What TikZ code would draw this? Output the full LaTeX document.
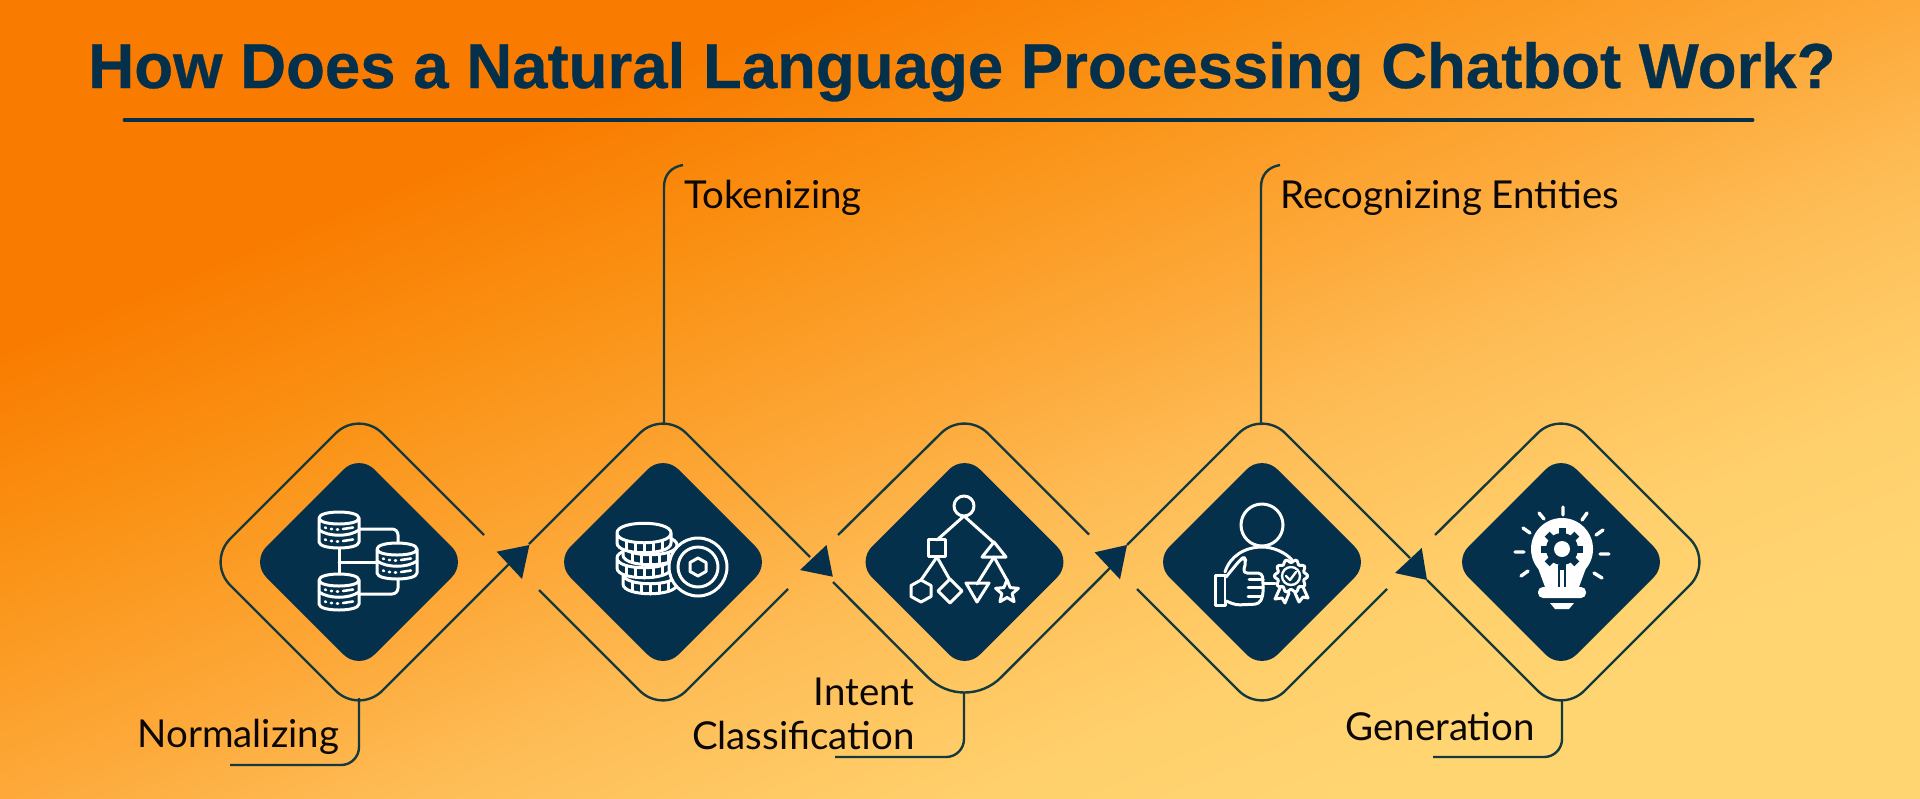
\documentclass[tikz,border=0pt]{standalone}
\usepackage{fontspec}
\setmainfont{Lato}
\newfontfamily\titlefont{Liberation Sans Bold}[FakeBold=0.5]
\usetikzlibrary{shapes.geometric,calc}
\definecolor{navy}{HTML}{04304B}
\definecolor{ln}{HTML}{143A3F}
\definecolor{ink}{HTML}{0B0705}
\definecolor{g0}{HTML}{F97C00}
\definecolor{g2}{HTML}{FA9215}
\definecolor{g3}{HTML}{FDA93A}
\definecolor{g4}{HTML}{FEBC55}
\definecolor{g5}{HTML}{FFD06C}
\definecolor{g6}{HTML}{FFD572}
\pgfdeclarehorizontalshading{bgshade}{100bp}{color(0bp)=(g0);color(36bp)=(g0);color(42.5bp)=(g2);color(50bp)=(g3);color(55bp)=(g4);color(62.5bp)=(g5);color(67.5bp)=(g6);color(100bp)=(g6)}
\tikzset{
  outerline/.style={draw=ln,line width=1.2pt,rounded corners=16.5pt,line cap=butt},
  leader/.style={draw=ln,line width=1.2pt},
  tip/.style={fill=navy},
  core/.style={diamond,fill=navy,aspect=1,inner sep=0pt,outer sep=0pt,minimum width=108bp,minimum height=108bp,rounded corners=11pt},
  lab/.style={font=\fontsize{19.3}{23}\selectfont,text=ink,anchor=base west,inner sep=0pt},
  ico/.style={draw=white,line width=1.5pt,line join=round,line cap=round},
  icof/.style={ico,fill=navy}
}
\newcommand\dbi[2]{\begin{scope}[shift={(#1,#2)}]
  \filldraw[icof] (-20,0) -- (-20,24) .. controls (-20,32) and (20,32) .. (20,24) -- (20,0) .. controls (20,-8) and (-20,-8) .. (-20,0) .. controls (-20,8) and (20,8) .. (20,0);
  \draw[ico] (-20,12) .. controls (-10,19) and (10,19) .. (20,12);
  \draw[ico,line width=1.3pt] (-14,9.5)--(-13,10) (-8,11)--(-7,11) (-2,11.5)--(-1,11.5) (4,11)--(14,9.5);
  \draw[ico,line width=1.3pt] (-14,21.5)--(-13,22) (-8,23)--(-7,23) (-2,23.5)--(-1,23.5) (4,23)--(14,21.5);
\end{scope}}
\newcommand\coini[2]{\begin{scope}[shift={(#1,#2)}]
  \filldraw[icof] (-27,0) -- (-27,10) .. controls (-27,23) and (27,23) .. (27,10) -- (27,0) .. controls (27,-13) and (-27,-13) .. (-27,0) .. controls (-27,13) and (27,13) .. (27,0);
  \draw[ico] (-18,8)--(-18,17) (-9,10)--(-9,19) (0,10)--(0,20) (9,10)--(9,19) (18,8)--(18,17);
\end{scope}}
\begin{document}
\begin{tikzpicture}[x=0.5bp,y=-0.5bp]
\useasboundingbox (0,0) rectangle (1920,798);
\begin{scope}
\clip (0,0) rectangle (1920,800);
\begin{scope}[x=1bp,y=1bp,transform canvas={cm={480,-200,480,200,(0,0)}}]
\path[shading=bgshade] (0,-1) rectangle (2,1);
\end{scope}
\end{scope}
% title
\node[anchor=base west,inner sep=0pt,text=navy,font=\titlefont\fontsize{31.9}{36}\selectfont] (title) at (88,88) {How Does a Natural Language Processing Chatbot Work?};
\coordinate (ruleL) at (125,120);
\coordinate (ruleR) at (1752,120);
\draw[navy,line width=2.5pt,line cap=round] (ruleL) -- (ruleR);
% core diamonds
\node[core] (n1) at (359,562) {};
\node[core] (n2) at (663,562) {};
\node[core] (n3) at (964.5,562) {};
\node[core] (n4) at (1262,562) {};
\node[core] (n5) at (1561,562) {};
% outer loops
\path[outerline] (484,535) -- (359,410) -- (207,562) -- (359,714) -- (512,561);
\path[outerline] (529,544) -- (663,410) -- (810,557);
\path[outerline] (539,590) -- (663,714) -- (788,589);
\path[outerline] (838,535) -- (964.5,410) -- (1089,534.5);
\path[outerline,rounded corners=26pt] (833,582) -- (964.5,714) -- (1110,568);
\path[outerline] (1127,545) -- (1262,410) -- (1410,558);
\path[outerline] (1137,589) -- (1262,714) -- (1387,589);
\path[outerline] (1435,535) -- (1561,410) -- (1713,562) -- (1561,714) -- (1427,580);
% arrow heads
\fill[tip] (496.6,551.7) -- (529.4,545) -- (522,579) -- cycle;
\fill[tip] (800,570) -- (826.5,545) -- (832.8,576.7) -- cycle;
\fill[tip] (1094.6,552.3) -- (1127,545) -- (1120,579.3) -- cycle;
\fill[tip] (1395,573) -- (1421.7,548) -- (1427,580) -- cycle;
% labels
\node[lab] (lNorm) at (137,747) {Normalizing};
\node[lab] (lTok) at (684,208) {Tokenizing};
\node[lab] (lRec) at (1280,208) {Recognizing Entities};
\node[lab,anchor=base east] (lInt) at (915,705) {Intent};
\node[lab,anchor=base east] (lCla) at (915,749) {Classification};
\node[lab] (lGen) at (1345,740) {Generation};
% leaders
\coordinate (a2) at (664,425); \coordinate (e2) at (683,165);
\coordinate (a4) at (1261,425); \coordinate (e4) at (1280,165);
\draw[leader] (a2) -- (664,187) .. controls (664,175) and (671,167) .. (e2);
\draw[leader] (a4) -- (1261,187) .. controls (1261,175) and (1268,167) .. (e4);
\coordinate (a1) at (359,698); \coordinate (e1) at (230,765);
\coordinate (a3) at (964,692); \coordinate (e3) at (835,757);
\coordinate (a5) at (1562,699); \coordinate (e5) at (1433,757);
\draw[leader,rounded corners=9pt] (a1) -- (359,765) -- (e1);
\draw[leader,rounded corners=9pt] (a3) -- (964,757) -- (e3);
\draw[leader,rounded corners=9pt] (a5) -- (1562,757) -- (e5);
% icon 1
\draw[ico,rounded corners=3pt] (359,529) -- (398,529) -- (398,545);
\draw[ico,rounded corners=3pt] (359,594) -- (398,594) -- (398,578);
\draw[ico] (339,545) -- (339,578) (339,562) -- (377,562);
\dbi{339}{518}\dbi{397}{549}\dbi{339}{580}
% icon 2
\coini{650}{574}\coini{644}{558}\coini{650}{545}\coini{644}{533}
\filldraw[icof] (698,567) circle (29);
\draw[ico] (698,567) circle (20);
\draw[ico] (698,558) -- (706,562.5) -- (706,571.5) -- (698,576) -- (690,571.5) -- (690,562.5) -- cycle;
% icon 3
\draw[ico] (964,516) -- (937,540) (964,516) -- (993,542);
\draw[ico] (964,506) circle (10);
\draw[ico] (928.5,539.5) rectangle (945.5,556.5);
\draw[ico] (994,542) -- (982,557) -- (1006,557) -- cycle;
\draw[ico] (937,557) -- (921,580) (937,557) -- (950,580);
\draw[ico] (994,557) -- (977,584) (994,557) -- (1008,582);
\draw[ico] (921,580) -- (931,585.5) -- (931,596.5) -- (921,602) -- (911,596.5) -- (911,585.5) -- cycle;
\draw[ico] (950,579) -- (962,591) -- (950,603) -- (938,591) -- cycle;
\draw[ico] (966,583) -- (989,583) -- (977,602) -- cycle;
\begin{scope}[shift={(1007,592)}]
\draw[ico] (0,-12) -- (3.2,-4.4) -- (11.4,-3.7) -- (5.2,1.7) -- (7.05,9.7) -- (0,5.5) -- (-7.05,9.7) -- (-5.2,1.7) -- (-11.4,-3.7) -- (-3.2,-4.4) -- cycle;
\end{scope}
% icon 4
\draw[ico] (1262,525) circle (21);
\draw[ico] (1225,572) .. controls (1230,556) and (1245,547) .. (1262,547) .. controls (1273,547) and (1285,552) .. (1292,560);
\draw[ico] (1215,575) rectangle (1225,605);
\draw[icof,rounded corners=2pt] (1226,577) -- (1240,560) -- (1244,557) -- (1246,561) -- (1243,573) -- (1262,573) -- (1263,580) -- (1263,596) -- (1259,604) -- (1236,605) -- (1226,601);
\draw[ico] (1249,579) -- (1263,579) (1248,587) -- (1263,587) (1248,596) -- (1262,596);
\draw[ico] (1263,583) -- (1275,583);
\draw[icof] (1280,588) -- (1275,599) -- (1282,598) -- (1285,603) -- (1289,593);
\draw[icof] (1295,593) -- (1299,602) -- (1303,597) -- (1308,598) -- (1303,587);
\begin{scope}[shift={(1291,576)}]
\filldraw[icof] plot[domain=0:355,samples=72] (\x:{15+1.6*cos(10*\x)}) -- cycle;
\draw[ico,line width=1.2pt] (0,0) circle (9);
\draw[ico,line width=1.2pt] (-5,0) -- (-1,4) -- (5,-4);
\end{scope}
% icon 5
\fill[white] (1562,549) circle (31);
\fill[white] (1538,568) -- (1586,568) -- (1579,587) -- (1545,587) -- cycle;
\begin{scope}[shift={(1562,549)}]
\fill[navy] (0,0) circle (16);
\foreach \a in {0,45,...,315}{\fill[navy,rotate=\a] (-3.5,-21) rectangle (3.5,-12);}
\fill[white] (0,0) circle (8);
\end{scope}
\draw[navy,line width=.8pt] (1559,565) -- (1559,587) (1565,565) -- (1565,587);
\fill[white,rounded corners=2.5pt] (1538,587) rectangle (1586,598);
\fill[white] (1550,603) -- (1574,603) -- (1569,609) -- (1555,609) -- cycle;
\draw[white,line width=1.7pt,line cap=round] (1563,507) -- (1563,515) (1539,513) -- (1544,519) (1587,513) -- (1582,520) (1523,528) -- (1530,533) (1603,530) -- (1596,535) (1515,552) -- (1524,552) (1600,554) -- (1609,554) (1521,576) -- (1528,571) (1594,573) -- (1602,578);
\end{tikzpicture}
\end{document}
